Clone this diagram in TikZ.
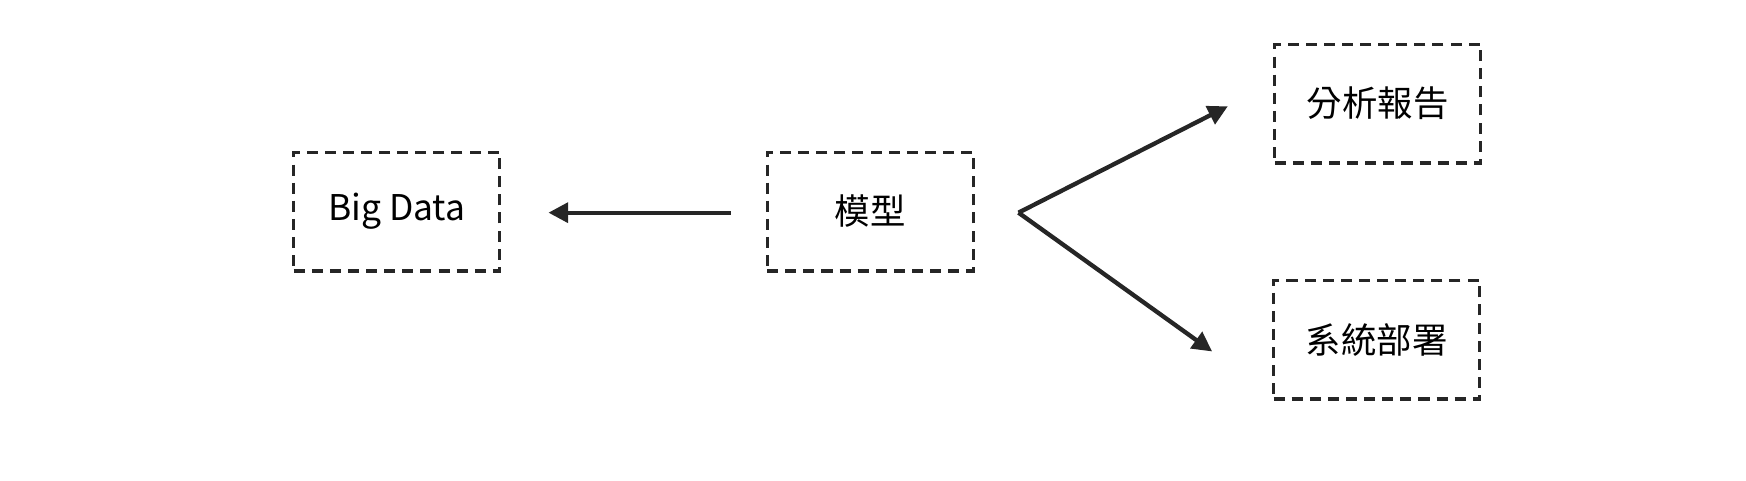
\documentclass[tikz,border=0pt]{standalone}
\usepackage{fontspec}
\setmainfont{Noto Sans CJK TC}
\usetikzlibrary{arrows.meta}
\tikzset{
  dbox/.style={draw=black!85,line width=0.85pt,dash pattern=on 2.8pt off 1.8pt,
    minimum width=1.84cm,minimum height=1.06cm,inner sep=0pt,font=\fontsize{9}{11}\selectfont},
  flow/.style={draw=black!85,line width=1.1pt,-{Triangle[length=5pt,width=5pt]}}
}
\begin{document}
\begin{tikzpicture}[x=0.01cm,y=-0.01cm]
\useasboundingbox (0,0) rectangle (1560,429);
\node[dbox] (data) at (354.5,189) {Big Data};
\node[dbox] (model) at (777.5,189) {模型};
\node[dbox] (report) at (1231,92.5) {分析報告};
\node[dbox] (deploy) at (1230,303.5) {系統部署};
% arrows
\coordinate (mL) at (653,190);
\coordinate (dR) at (490,190);
\coordinate (mR) at (910,190);
\coordinate (rL) at (1097,95);
\coordinate (sL) at (1083,314);
\draw[flow] (mL) -- (dR);
\draw[flow] (mR) -- (rL);
\draw[flow] (mR) -- (sL);
\end{tikzpicture}
\end{document}
